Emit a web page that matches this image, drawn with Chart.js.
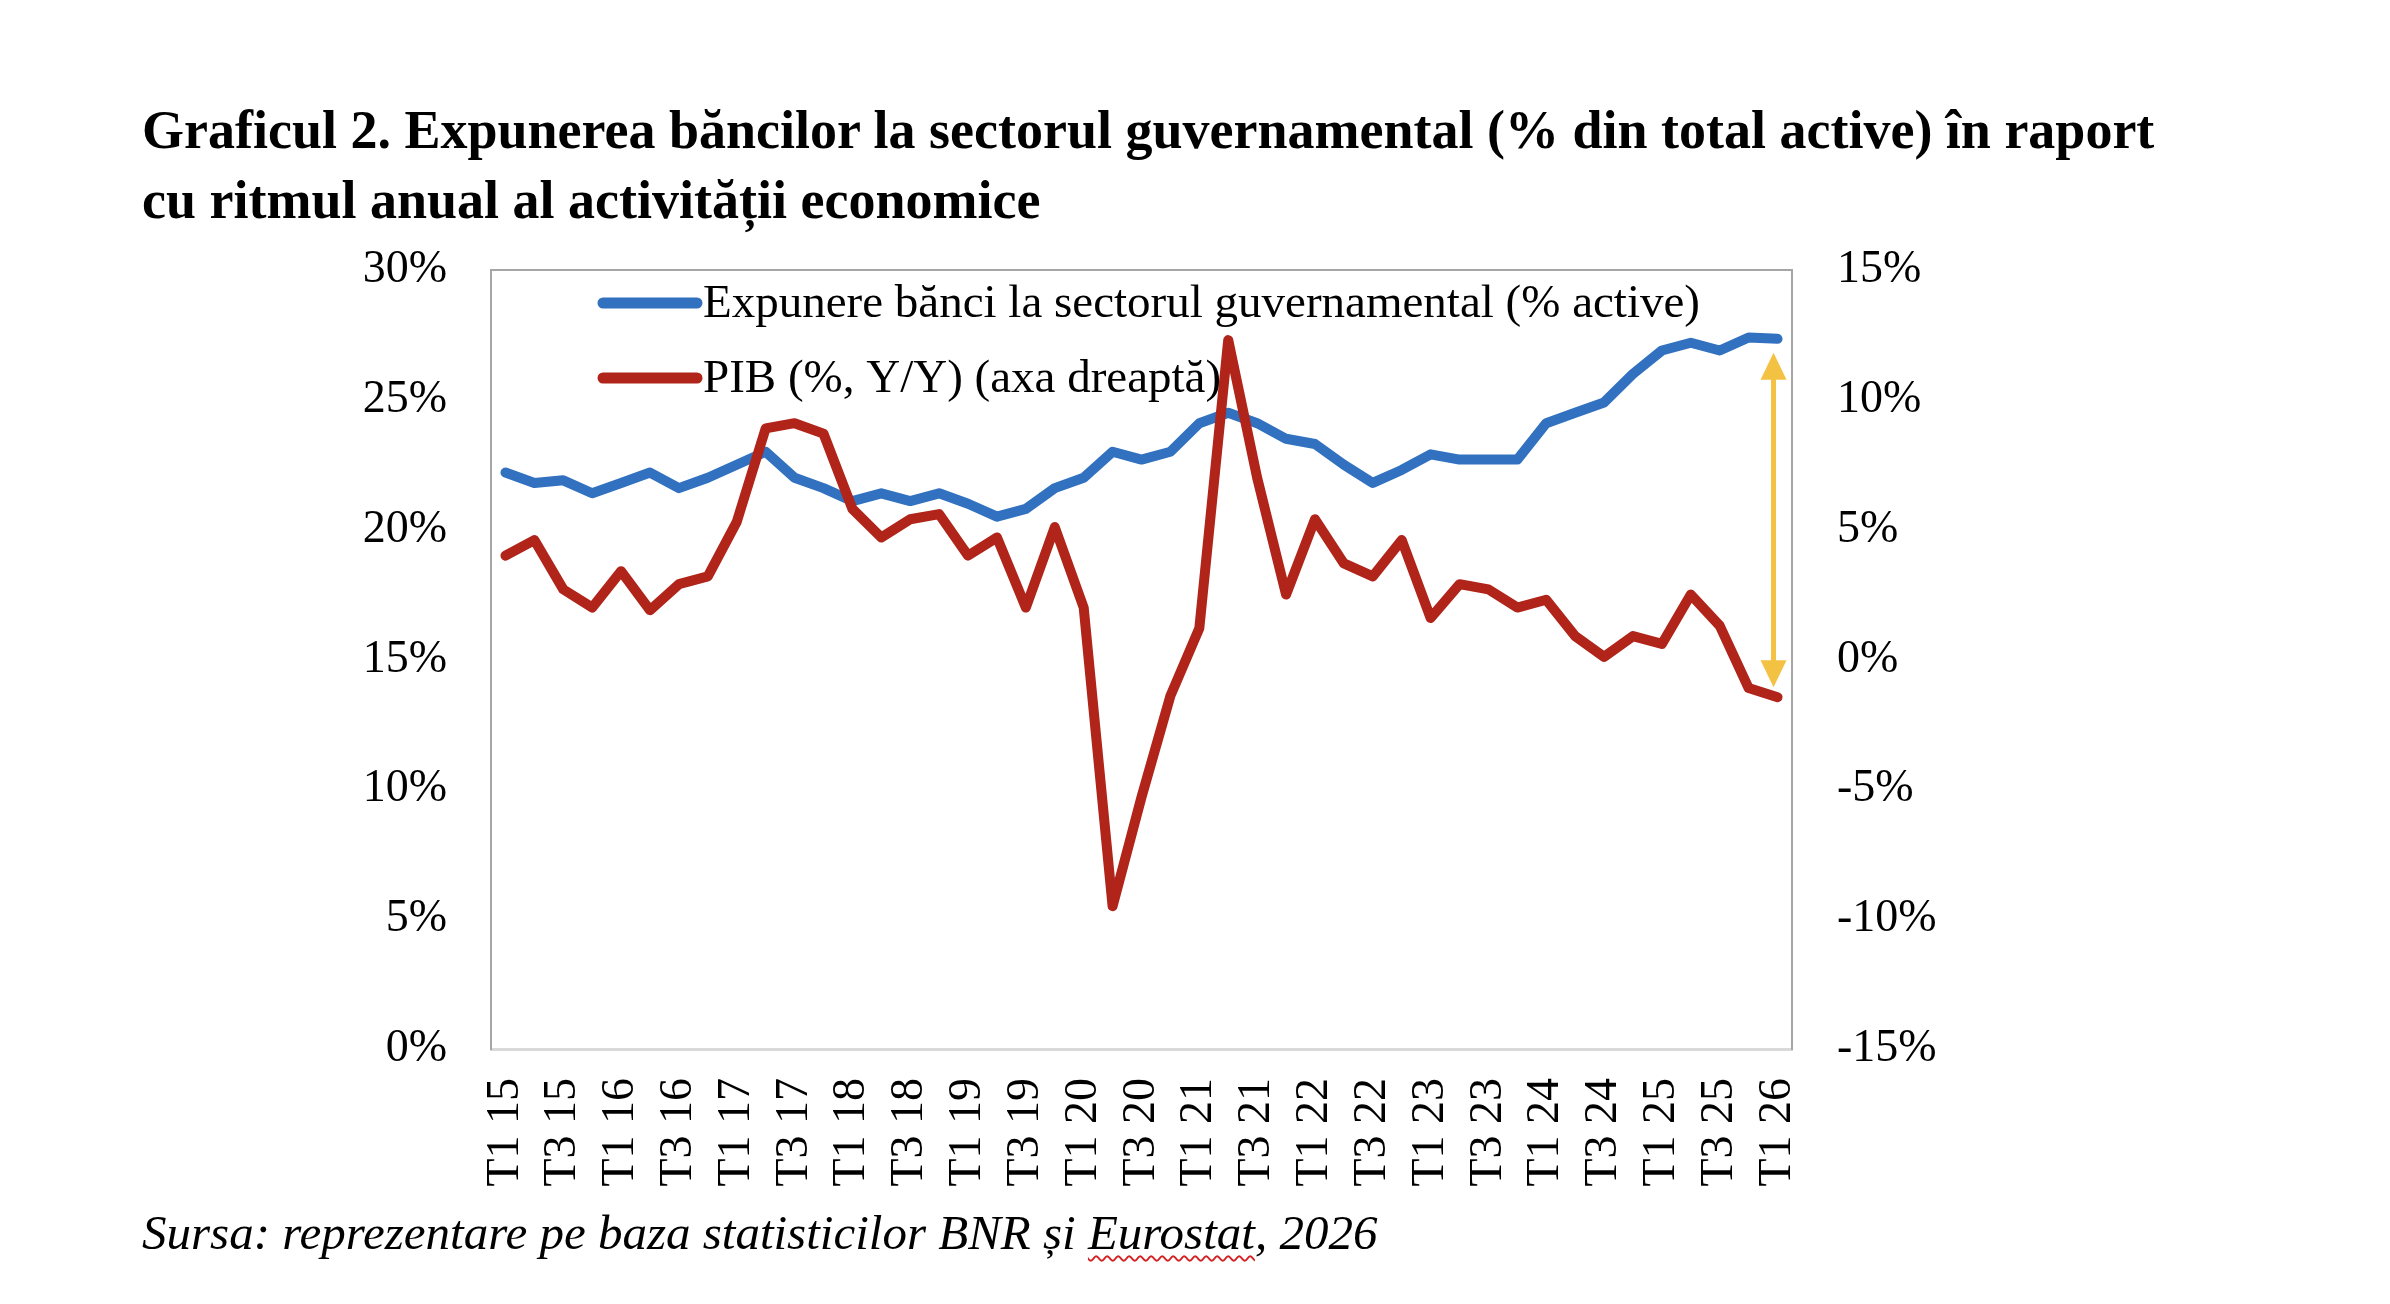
<!DOCTYPE html>
<html>
<head>
<meta charset="utf-8">
<script src="https://cdn.jsdelivr.net/npm/chart.js@4.4.1/dist/chart.umd.min.js"></script>
<style>
  html, body { margin: 0; padding: 0; background: #ffffff; }
  body { width: 2390px; height: 1304px; position: relative; overflow: hidden; }
  #c { position: absolute; left: 0; top: 0; }
  .title { position: absolute; left: 142px; top: 95px; font-family: "Times New Roman", "Liberation Serif", serif; font-weight: bold; font-size: 54px; line-height: 70px; white-space: nowrap; color: #000; }
  .source { position: absolute; left: 142px; top: 1203px; font-family: "Times New Roman", "Liberation Serif", serif; font-style: italic; font-size: 49px; line-height: 60px; white-space: nowrap; color: #000; }
  .spell { text-decoration: underline wavy #d42020; text-decoration-thickness: 2px; text-underline-offset: 6px; }
</style>
</head>
<body>
<div class="title">Graficul 2. Expunerea băncilor la sectorul guvernamental (% din total active) în raport<br>cu ritmul anual al activității economice</div>
<canvas id="c" width="2390" height="1304"></canvas>
<div class="source">Sursa: reprezentare pe baza statisticilor BNR și <span class="spell">Eurostat</span>, 2026</div>
<script>
// ---- data ----
const categories = [
  "T1 15","T2 15","T3 15","T4 15",
  "T1 16","T2 16","T3 16","T4 16",
  "T1 17","T2 17","T3 17","T4 17",
  "T1 18","T2 18","T3 18","T4 18",
  "T1 19","T2 19","T3 19","T4 19",
  "T1 20","T2 20","T3 20","T4 20",
  "T1 21","T2 21","T3 21","T4 21",
  "T1 22","T2 22","T3 22","T4 22",
  "T1 23","T2 23","T3 23","T4 23",
  "T1 24","T2 24","T3 24","T4 24",
  "T1 25","T2 25","T3 25","T4 25",
  "T1 26"
];
const expunereBanci = [22.2, 21.8, 21.9, 21.4, 21.8, 22.2, 21.6, 22.0, 22.5, 23.0, 22.0, 21.6, 21.1, 21.4, 21.1, 21.4, 21.0, 20.5, 20.8, 21.6, 22.0, 23.0, 22.7, 23.0, 24.1, 24.5, 24.1, 23.5, 23.3, 22.5, 21.8, 22.3, 22.9, 22.7, 22.7, 22.7, 24.1, 24.5, 24.9, 26.0, 26.9, 27.2, 26.9, 27.4, 27.35];
const pib = [4.0, 4.6, 2.7, 2.0, 3.4, 1.9, 2.9, 3.2, 5.3, 8.9, 9.1, 8.7, 5.8, 4.7, 5.4, 5.6, 4.0, 4.7, 2.0, 5.1, 2.0, -9.5, -5.3, -1.4, 1.2, 12.3, 7.0, 2.5, 5.4, 3.7, 3.2, 4.6, 1.6, 2.9, 2.7, 2.0, 2.3, 0.9, 0.1, 0.9, 0.6, 2.5, 1.3, -1.1, -1.45];
const leftTicks = { min: 0, max: 30, step: 5 };
const rightTicks = { min: -15, max: 15, step: 5 };
const seriesLabels = ["Expunere bănci la sectorul guvernamental (% active)", "PIB (%, Y/Y) (axa dreaptă)"];

const FONT = '"Times New Roman", "Liberation Serif", serif';
const BLUE = '#3171BF';
const RED = '#B0241A';
const GOLD = '#F4C242';

// legend drawn inside the plot area (left-aligned rows)
const insideLegend = {
  id: 'insideLegend',
  afterDatasetsDraw(chart) {
    const ctx = chart.ctx;
    const a = chart.chartArea;
    const x0 = a.left + 112, len = 94, gap = 6;
    const rows = [a.top + 33, a.top + 108];
    ctx.save();
    ctx.font = '47px ' + FONT;
    ctx.textBaseline = 'middle';
    ctx.textAlign = 'left';
    chart.data.datasets.forEach((ds, i) => {
      const y = rows[i];
      ctx.strokeStyle = ds.borderColor;
      ctx.lineWidth = 11;
      ctx.lineCap = 'round';
      ctx.beginPath();
      ctx.moveTo(x0, y);
      ctx.lineTo(x0 + len, y);
      ctx.stroke();
      ctx.fillStyle = '#000';
      ctx.fillText(ds.label, x0 + len + gap, y + 2);
    });
    ctx.restore();
  }
};

// top border of plot area
const topBorder = {
  id: 'topBorder',
  beforeDatasetsDraw(chart) {
    const ctx = chart.ctx, a = chart.chartArea;
    ctx.save();
    ctx.strokeStyle = '#A6A6A6';
    ctx.lineWidth = 2;
    ctx.beginPath();
    ctx.moveTo(a.left, a.top);
    ctx.lineTo(a.right, a.top);
    ctx.stroke();
    ctx.restore();
  }
};

// double arrow between the last values of the two series
const gapArrow = {
  id: 'gapArrow',
  afterDatasetsDraw(chart) {
    const ctx = chart.ctx;
    const xs = chart.scales.x, yl = chart.scales.y, yr = chart.scales.y1;
    const last = categories.length - 1;
    const x = xs.getPixelForValue(last) - 4;
    const yTop = yl.getPixelForValue(expunereBanci[last]) + 14;
    const yBot = yr.getPixelForValue(pib[last]) - 10;
    const hl = 27, hw = 13;
    ctx.save();
    ctx.strokeStyle = GOLD;
    ctx.fillStyle = GOLD;
    ctx.lineWidth = 5;
    ctx.beginPath();
    ctx.moveTo(x, yTop + hl - 2);
    ctx.lineTo(x, yBot - hl + 2);
    ctx.stroke();
    ctx.beginPath();
    ctx.moveTo(x, yTop);
    ctx.lineTo(x - hw, yTop + hl);
    ctx.lineTo(x + hw, yTop + hl);
    ctx.closePath();
    ctx.fill();
    ctx.beginPath();
    ctx.moveTo(x, yBot);
    ctx.lineTo(x - hw, yBot - hl);
    ctx.lineTo(x + hw, yBot - hl);
    ctx.closePath();
    ctx.fill();
    ctx.restore();
  }
};

new Chart(document.getElementById('c'), {
  type: 'line',
  data: {
    labels: categories,
    datasets: [
      {
        label: seriesLabels[0],
        data: expunereBanci,
        yAxisID: 'y',
        borderColor: BLUE,
        backgroundColor: BLUE,
        borderWidth: 10,
        pointRadius: 0,
        borderJoinStyle: 'round',
        borderCapStyle: 'round',
        tension: 0,
        order: 1
      },
      {
        label: seriesLabels[1],
        data: pib,
        yAxisID: 'y1',
        borderColor: RED,
        backgroundColor: RED,
        borderWidth: 10,
        pointRadius: 0,
        borderJoinStyle: 'round',
        borderCapStyle: 'round',
        tension: 0,
        order: 0
      }
    ]
  },
  options: {
    responsive: false,
    animation: false,
    devicePixelRatio: 1,
    layout: { padding: { top: 270, left: 0, right: 0, bottom: 0 } },
    plugins: {
      legend: { display: false },
      tooltip: { enabled: false },
      title: { display: false }
    },
    scales: {
      x: {
        type: 'category',
        offset: true,
        grid: { display: false, drawTicks: false },
        border: { color: '#D9D9D9', width: 3 },
        ticks: {
          autoSkip: false,
          maxRotation: 90,
          minRotation: 90,
          padding: 29,
          color: '#000',
          font: { family: FONT, size: 46 },
          callback: function (v, i) { return i % 2 === 0 ? categories[i] : ''; }
        },
        afterFit(s) { s.height = 255; }
      },
      y: {
        position: 'left',
        min: leftTicks.min,
        max: leftTicks.max,
        grid: { display: false, drawTicks: false },
        border: { color: '#A6A6A6', width: 2 },
        ticks: {
          stepSize: leftTicks.step,
          padding: 44,
          color: '#000',
          font: { family: FONT, size: 46 },
          callback: v => v + '%'
        },
        afterFit(s) { s.width = 491; }
      },
      y1: {
        position: 'right',
        min: rightTicks.min,
        max: rightTicks.max,
        grid: { display: false, drawTicks: false },
        border: { color: '#A6A6A6', width: 2 },
        ticks: {
          stepSize: rightTicks.step,
          padding: 45,
          color: '#000',
          font: { family: FONT, size: 46 },
          callback: v => v + '%'
        },
        afterFit(s) { s.width = 598; }
      }
    }
  },
  plugins: [topBorder, insideLegend, gapArrow]
});
</script>
</body>
</html>
